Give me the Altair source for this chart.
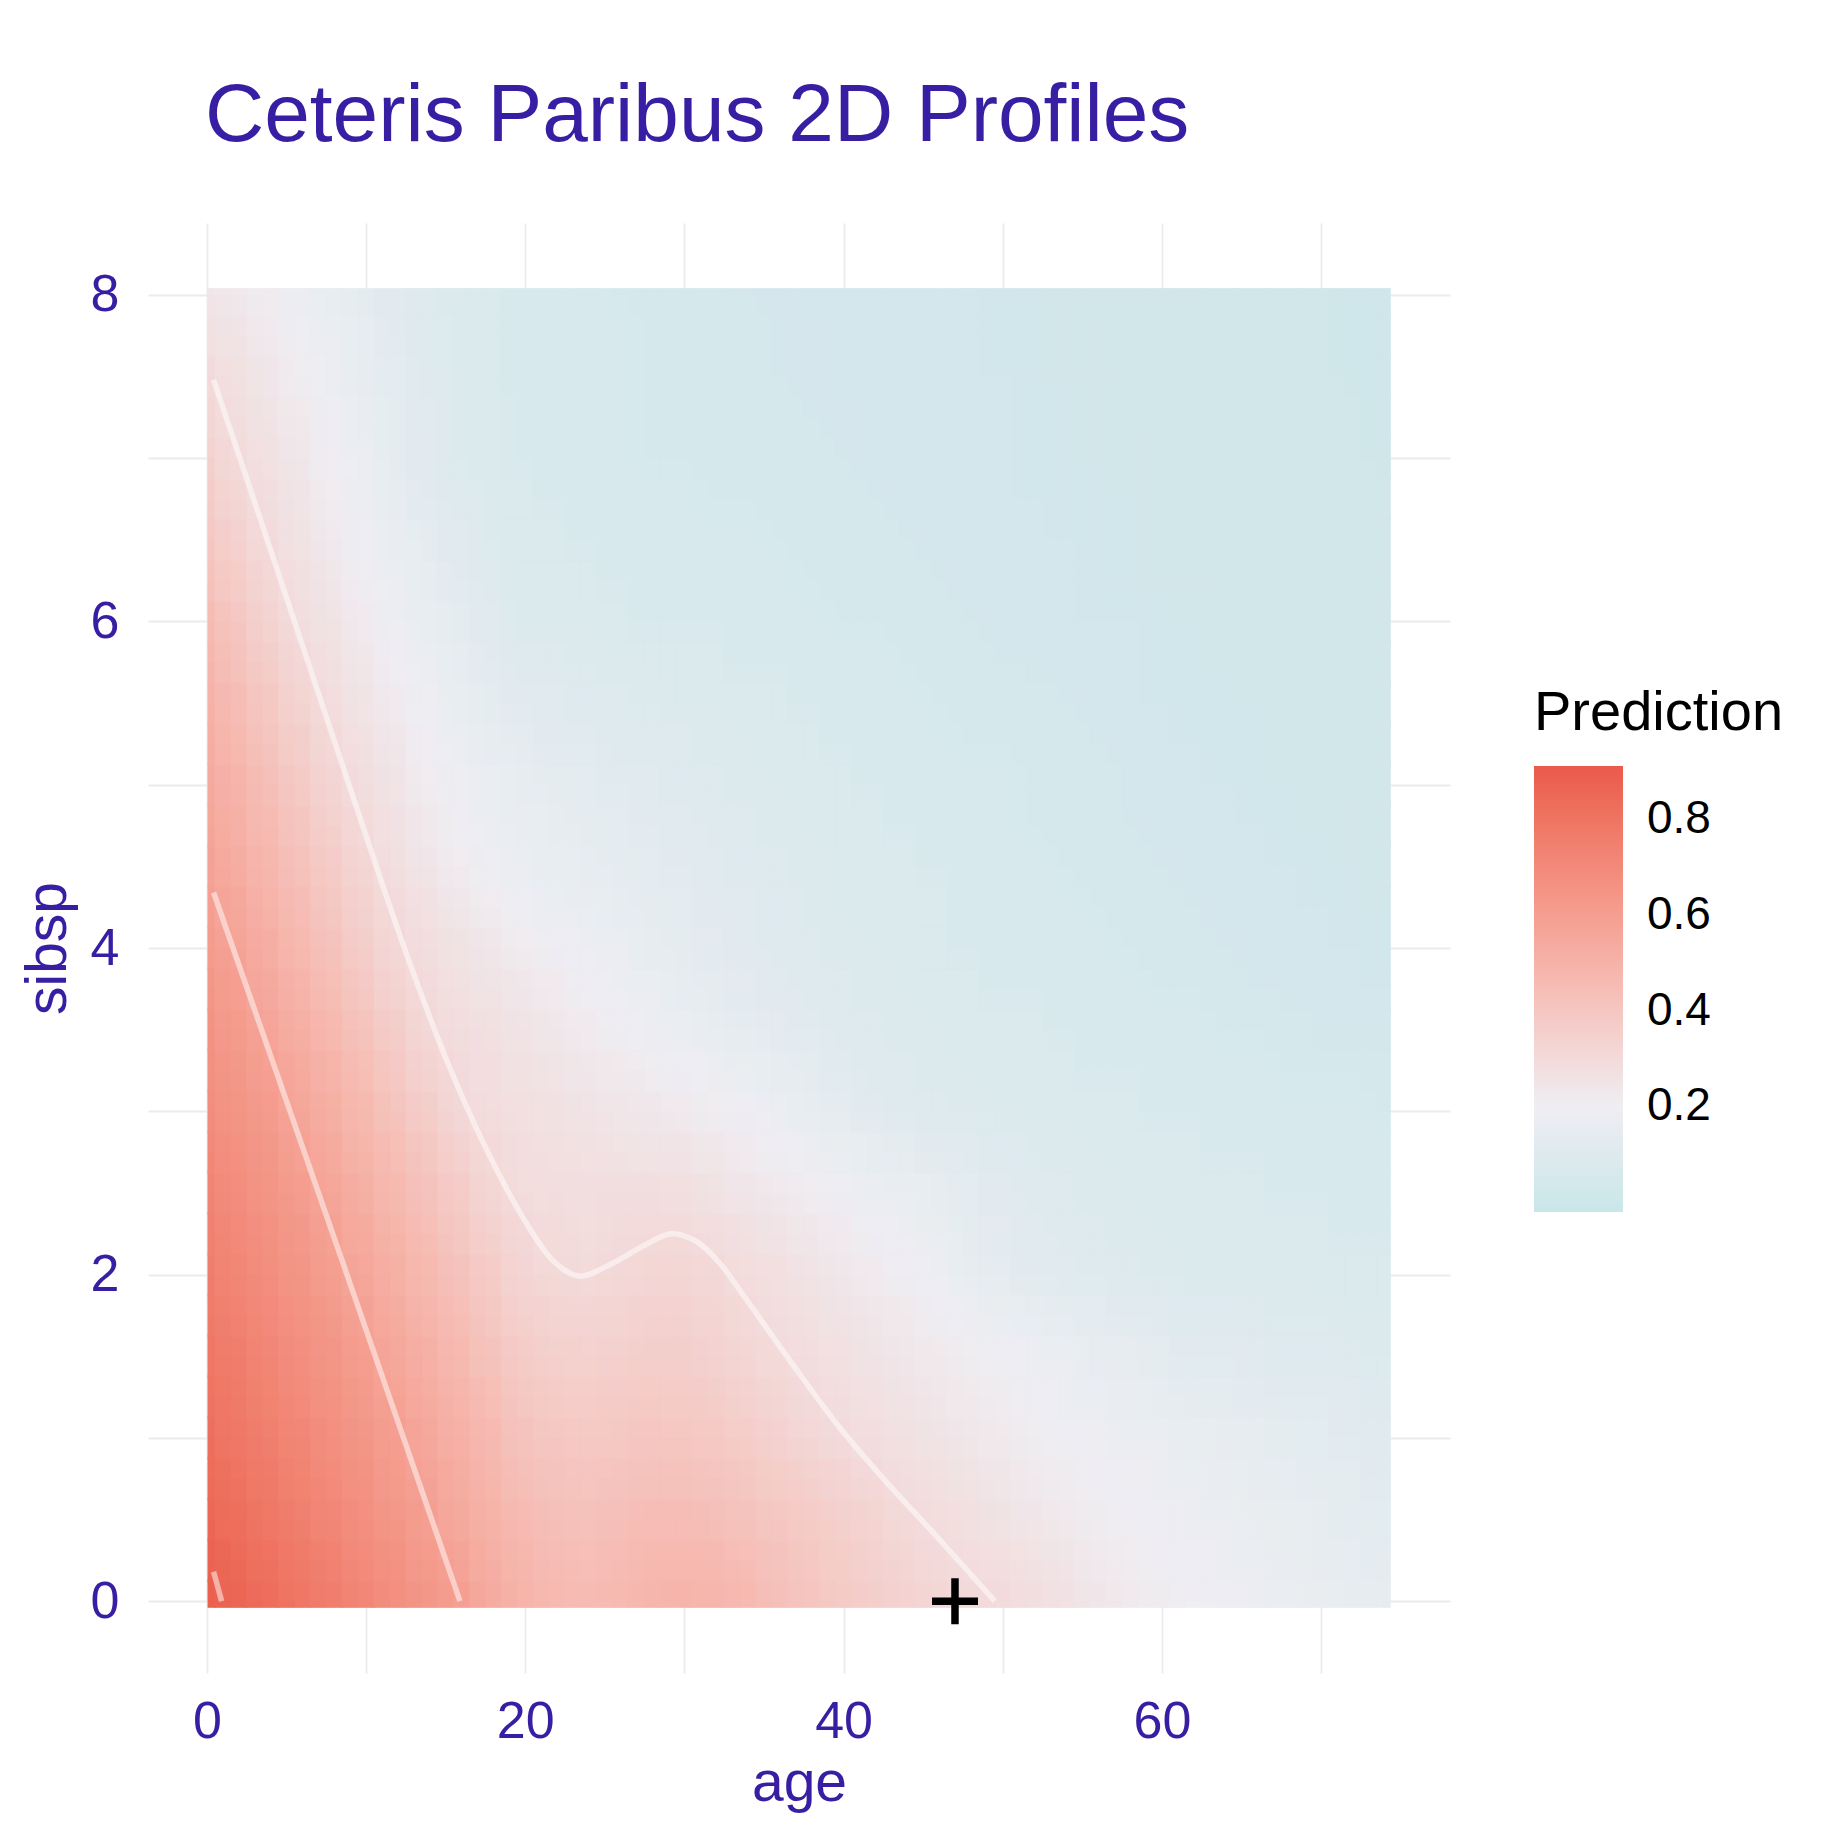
import altair as alt
import pandas as pd

# grid of the profile: age columns, sibsp rows
ages = [0, 2, 4, 6, 8, 10, 12, 14, 16, 18, 20, 22, 24, 26, 28, 30, 32, 34, 36,
        38, 40, 42, 44, 46, 48, 50, 52, 54, 56, 58, 60, 62, 64, 66, 68, 70, 72, 74]
sibsp_levels = [0, 0.25, 0.5, 0.75, 1, 1.25, 1.5, 1.75, 2, 2.25, 2.5, 2.75, 3, 3.25, 3.5, 3.75,
                4, 4.25, 4.5, 4.75, 5, 5.25, 5.5, 5.75, 6, 6.25, 6.5, 6.75, 7, 7.25, 7.5, 7.75, 8]

# predicted values, one row per sibsp level, one value per age column
prediction_rows = [
    [.89, .86, .825, .787, .75, .71, .67, .63, .59, .53, .49, .46, .45, .46, .48, .485, .48, .46, .43,
     .40, .375, .355, .335, .315, .30, .29, .275, .26, .24, .225, .21, .20, .19, .18, .17, .162, .155, .15],
    [.872, .84, .803, .766, .728, .688, .649, .61, .567, .513, .47, .445, .437, .445, .46, .463, .455, .435, .41,
     .385, .362, .34, .318, .30, .285, .273, .258, .242, .225, .212, .20, .191, .182, .173, .164, .156, .148, .141],
    [.852, .818, .782, .744, .705, .666, .628, .589, .543, .496, .45, .43, .423, .43, .44, .44, .43, .41, .39,
     .37, .348, .325, .30, .285, .27, .255, .24, .224, .209, .198, .19, .182, .174, .166, .158, .149, .141, .132],
    [.835, .80, .763, .726, .687, .649, .61, .569, .523, .476, .43, .41, .403, .409, .418, .417, .405, .385, .363,
     .34, .319, .30, .282, .268, .253, .238, .224, .21, .199, .189, .18, .171, .163, .156, .148, .14, .133, .125],
    [.815, .78, .744, .707, .669, .631, .593, .548, .502, .456, .41, .39, .383, .388, .395, .393, .38, .36, .335,
     .31, .29, .276, .263, .25, .236, .221, .207, .197, .188, .179, .17, .16, .152, .145, .138, .131, .124, .117],
    [.80, .765, .727, .689, .651, .613, .572, .526, .48, .434, .388, .369, .363, .368, .374, .372, .358, .338, .314,
     .294, .277, .263, .25, .236, .222, .208, .195, .184, .173, .162, .152, .143, .136, .129, .123, .118, .112, .107],
    [.785, .747, .709, .671, .633, .595, .55, .504, .458, .411, .365, .348, .342, .347, .352, .35, .336, .315, .293,
     .278, .264, .25, .236, .221, .207, .195, .182, .17, .157, .145, .134, .126, .119, .113, .108, .104, .10, .097],
    [.768, .73, .692, .654, .616, .575, .529, .482, .436, .389, .343, .325, .32, .326, .334, .334, .321, .302, .282,
     .265, .249, .234, .218, .201, .181, .165, .152, .141, .131, .122, .114, .108, .103, .099, .095, .092, .089, .086],
    [.75, .712, .674, .636, .598, .554, .507, .46, .413, .367, .32, .302, .297, .305, .315, .318, .305, .288, .27,
     .252, .234, .217, .20, .18, .155, .135, .122, .112, .104, .098, .094, .09, .087, .084, .081, .079, .077, .075],
    [.735, .696, .658, .619, .578, .532, .484, .437, .389, .342, .304, .29, .286, .29, .295, .294, .28, .264, .248,
     .23, .213, .197, .181, .163, .143, .127, .115, .106, .10, .096, .09, .086, .083, .08, .077, .075, .073, .07],
    [.72, .68, .641, .602, .557, .509, .461, .413, .365, .317, .288, .279, .275, .275, .275, .27, .255, .24, .225,
     .207, .192, .177, .162, .146, .131, .118, .108, .10, .095, .09, .085, .082, .079, .076, .073, .07, .068, .065],
    [.70, .661, .623, .581, .533, .484, .434, .385, .336, .301, .281, .271, .263, .258, .252, .244, .231, .215, .199,
     .18, .163, .147, .134, .122, .112, .104, .097, .092, .088, .084, .08, .077, .074, .071, .068, .065, .063, .06],
    [.68, .642, .604, .559, .509, .458, .407, .356, .306, .285, .273, .262, .251, .24, .228, .217, .206, .19, .172,
     .152, .133, .117, .105, .098, .093, .089, .086, .083, .08, .077, .074, .072, .069, .066, .063, .06, .058, .055],
    [.665, .626, .584, .536, .485, .434, .382, .331, .294, .275, .261, .247, .234, .22, .207, .194, .181, .165, .15,
     .134, .119, .108, .099, .093, .088, .084, .081, .077, .074, .071, .067, .065, .061, .058, .056, .053, .051, .048],
    [.65, .609, .564, .512, .461, .409, .357, .306, .281, .265, .249, .232, .216, .20, .185, .17, .155, .14, .127,
     .115, .105, .098, .092, .087, .083, .079, .075, .071, .067, .064, .06, .057, .053, .05, .048, .045, .043, .04],
    [.63, .589, .54, .488, .436, .384, .332, .292, .268, .249, .23, .214, .199, .185, .17, .155, .142, .129, .118,
     .108, .10, .093, .088, .083, .078, .074, .07, .066, .062, .059, .055, .053, .05, .047, .045, .043, .041, .038],
    [.61, .569, .516, .464, .411, .359, .306, .277, .255, .233, .211, .195, .182, .17, .155, .14, .128, .117, .108,
     .10, .094, .088, .083, .078, .073, .069, .065, .061, .057, .053, .05, .048, .046, .044, .042, .04, .038, .036],
    [.593, .546, .493, .441, .389, .337, .289, .259, .234, .212, .192, .178, .166, .155, .143, .131, .121, .112, .104,
     .097, .091, .085, .08, .075, .07, .066, .062, .058, .054, .051, .048, .046, .044, .042, .04, .038, .037, .035],
    [.575, .523, .47, .418, .366, .314, .272, .24, .212, .19, .172, .16, .15, .14, .13, .122, .114, .106, .099,
     .093, .087, .082, .077, .072, .067, .062, .058, .054, .051, .048, .046, .044, .042, .04, .038, .036, .035, .033],
    [.558, .504, .45, .397, .343, .297, .259, .226, .20, .179, .162, .15, .14, .13, .122, .115, .107, .10, .094,
     .088, .082, .077, .073, .068, .064, .06, .056, .053, .05, .047, .045, .043, .041, .039, .037, .035, .034, .032],
    [.54, .485, .43, .375, .32, .28, .245, .212, .188, .168, .152, .14, .13, .12, .114, .108, .10, .094, .088,
     .082, .077, .072, .068, .064, .06, .057, .054, .051, .048, .045, .043, .041, .039, .037, .035, .033, .032, .03],
    [.52, .463, .408, .351, .303, .264, .23, .199, .175, .154, .136, .126, .118, .109, .104, .099, .092, .087, .082,
     .077, .072, .068, .064, .06, .056, .054, .051, .049, .046, .043, .041, .039, .038, .036, .034, .032, .031, .029],
    [.50, .44, .385, .327, .285, .248, .215, .186, .161, .139, .12, .112, .105, .098, .094, .09, .084, .08, .075,
     .071, .067, .063, .059, .055, .052, .05, .048, .046, .044, .041, .039, .037, .036, .034, .032, .031, .029, .028],
    [.475, .415, .358, .305, .267, .232, .20, .173, .148, .125, .105, .099, .093, .088, .084, .081, .076, .073, .069,
     .065, .062, .058, .055, .052, .049, .047, .045, .044, .042, .04, .038, .036, .035, .033, .031, .03, .028, .027],
    [.45, .39, .33, .282, .249, .216, .185, .16, .135, .11, .09, .085, .08, .077, .074, .071, .068, .065, .062,
     .059, .056, .053, .05, .048, .046, .044, .042, .041, .039, .038, .036, .034, .033, .031, .03, .028, .027, .025],
    [.42, .363, .31, .269, .237, .205, .174, .149, .125, .103, .086, .081, .076, .073, .07, .067, .064, .061, .059,
     .056, .054, .051, .049, .047, .045, .043, .041, .04, .038, .037, .035, .034, .032, .031, .029, .028, .026, .025],
    [.39, .335, .29, .256, .224, .193, .163, .137, .115, .096, .081, .076, .072, .068, .065, .062, .059, .057, .055,
     .053, .051, .049, .047, .045, .044, .042, .04, .039, .037, .036, .034, .033, .031, .03, .028, .027, .025, .024],
    [.365, .314, .276, .244, .212, .182, .152, .126, .105, .089, .077, .072, .068, .064, .061, .058, .055, .054, .052,
     .051, .049, .047, .045, .044, .043, .041, .039, .038, .036, .035, .033, .032, .03, .029, .027, .026, .024, .023],
    [.34, .293, .262, .231, .20, .17, .14, .115, .095, .082, .072, .068, .064, .06, .056, .053, .051, .05, .049,
     .048, .046, .045, .043, .042, .041, .04, .038, .037, .035, .034, .032, .031, .029, .028, .026, .025, .023, .022],
    [.315, .281, .25, .219, .193, .163, .135, .112, .093, .08, .071, .067, .063, .059, .055, .052, .05, .049, .048,
     .047, .046, .045, .043, .042, .041, .04, .038, .036, .035, .033, .032, .03, .029, .027, .026, .024, .023, .021],
    [.29, .268, .238, .207, .185, .155, .13, .108, .09, .078, .07, .065, .061, .057, .054, .051, .049, .048, .047,
     .046, .045, .044, .042, .041, .04, .039, .037, .035, .034, .032, .031, .029, .028, .026, .025, .023, .022, .02],
    [.265, .247, .223, .196, .173, .148, .125, .104, .089, .078, .07, .065, .061, .057, .054, .051, .049, .048, .047,
     .046, .045, .044, .042, .041, .04, .039, .037, .035, .034, .032, .031, .029, .028, .026, .025, .023, .022, .02],
    [.24, .225, .208, .185, .16, .14, .12, .10, .088, .078, .07, .064, .06, .056, .053, .05, .048, .047, .046,
     .045, .044, .043, .042, .041, .04, .038, .036, .035, .033, .032, .03, .029, .027, .026, .025, .023, .021, .02],
]
assert len(prediction_rows) == len(sibsp_levels)
assert all(len(r) == len(ages) for r in prediction_rows)

# contour lines
outer_age = [0.42, 3.0, 5.5, 8.0, 10.4, 12.7, 15.2, 17.7, 20.1, 21.8, 23.4, 25.5, 27.5, 29.2, 30.8, 32.3,
             33.8, 36.8, 39.7, 42.6, 46.0, 49.5]
outer_sibsp = [7.48, 6.73, 6.0, 5.27, 4.57, 3.92, 3.28, 2.74, 2.31, 2.08, 1.99, 2.07, 2.18, 2.25, 2.2, 2.06,
               1.86, 1.45, 1.07, 0.74, 0.38, 0.0]
inner_age = [0.42, 8.8, 15.9]
inner_sibsp = [4.34, 2.0, 0.0]
corner_age = [0.42, 0.93]
corner_sibsp = [0.18, 0.0]

# the observation the profile was computed for
obs_age = [47]
obs_sibsp = [0]

grid = pd.DataFrame(
    [{"sibsp": s, "age": a, "prediction": v}
     for s, row in zip(sibsp_levels, prediction_rows)
     for a, v in zip(ages, row)]
)

contours = pd.concat([
    pd.DataFrame({"line": "outer", "age": outer_age, "sibsp": outer_sibsp}),
    pd.DataFrame({"line": "inner", "age": inner_age, "sibsp": inner_sibsp}),
    pd.DataFrame({"line": "corner", "age": corner_age, "sibsp": corner_sibsp}),
])
obs = pd.DataFrame({"age": obs_age, "sibsp": obs_sibsp})

ink = "#371ea3"
font = "Liberation Sans"

fill_scale = alt.Scale(domain=[-0.02, 0.2, 0.91], range=["#c9e6e9", "#efeef3", "#ea5a4a"], interpolate="lab")
x_scale = alt.Scale(domain=[-3.7, 78.1], nice=False, zero=False)
y_scale = alt.Scale(domain=[-0.44, 8.44], nice=False, zero=False)


def cells(age_lo, age_hi, s_lo, s_hi, opacity=1.0, legend=None):
    """One layer of heatmap cells; the offsets place each cell around its grid point."""
    return alt.Chart(grid).mark_rect(opacity=opacity).transform_calculate(
        a0=f"max(datum.age + ({age_lo}), 0.05)",
        a1=f"min(datum.age + ({age_hi}), 74.37)",
        s0=f"max(datum.sibsp + ({s_lo}), -0.04)",
        s1=f"min(datum.sibsp + ({s_hi}), 8.04)",
    ).encode(
        x=alt.X("a0:Q", scale=x_scale),
        x2="a1:Q",
        y=alt.Y("s0:Q", scale=y_scale),
        y2="s1:Q",
        color=alt.Color("prediction:Q", scale=fill_scale, legend=legend),
    )


legend = alt.Legend(
    title="Prediction", values=[0.2, 0.4, 0.6, 0.8], format=".1f",
    orient="none", legendX=1386, legendY=463,
    gradientLength=446, gradientThickness=89, gradientStrokeWidth=0,
    titleFontSize=56, titleFont=font, titleFontWeight="normal", titleColor="black",
    titleLimit=600, titlePadding=24,
    labelFontSize=46, labelFont=font, labelColor="black", labelOffset=24)

# base cells overlap a hair so no seams show; two see-through copies shifted by
# one year and by an eighth of a sibling blend neighbouring cells together
heat = cells(-1.55, 0.55, -0.135, 0.135, legend=legend).encode(
    x=alt.X("a0:Q", scale=x_scale, axis=alt.Axis(
        title="age", values=list(range(0, 80, 10)),
        labelExpr="datum.value % 20 === 0 ? format(datum.value, 'd') : ''",
        labelPadding=23, titlePadding=8)),
    y=alt.Y("s0:Q", scale=y_scale, axis=alt.Axis(
        title="sibsp", values=list(range(0, 9)),
        labelExpr="datum.value % 2 === 0 ? format(datum.value, 'd') : ''",
        labelPadding=29, titlePadding=13)),
)
blend_x = cells(-0.5, 1.5, -0.125, 0.125, opacity=0.5)
blend_y = cells(-1.5, 0.5, 0, 0.25, opacity=1 / 3)

lines = alt.Chart(contours).mark_line(
    color="white", opacity=0.5, strokeWidth=5.5, interpolate="catmull-rom"
).encode(
    x=alt.X("age:Q", scale=x_scale),
    y=alt.Y("sibsp:Q", scale=y_scale),
    detail="line:N",
)

marker = alt.Chart(obs).mark_point(
    shape="M-1,0H1M0,-1V1", filled=False, color="black", strokeWidth=7.5, size=2116, opacity=1
).encode(
    x=alt.X("age:Q", scale=x_scale),
    y=alt.Y("sibsp:Q", scale=y_scale),
)

chart = alt.layer(heat, blend_x, blend_y, lines, marker).properties(
    width=1302,
    height=1450,
    autosize=alt.AutoSizeParams(type="none"),
    padding={"left": 140, "top": 215, "right": 380, "bottom": 150},
    title=alt.TitleParams(
        "Ceteris Paribus 2D Profiles", anchor="start", frame="group", dx=57, offset=0,
        baseline="alphabetic", fontSize=82, font=font, fontWeight="normal", color=ink),
).configure_view(
    stroke=None
).configure_axis(
    grid=True, gridColor="#ebebeb", gridWidth=1.8, domain=False, ticks=False,
    labelFont=font, labelFontSize=52, labelColor=ink,
    titleFont=font, titleFontSize=57, titleFontWeight="normal", titleColor=ink,
)

chart.save("out.html", embed_options={"renderer": "svg", "actions": False})
